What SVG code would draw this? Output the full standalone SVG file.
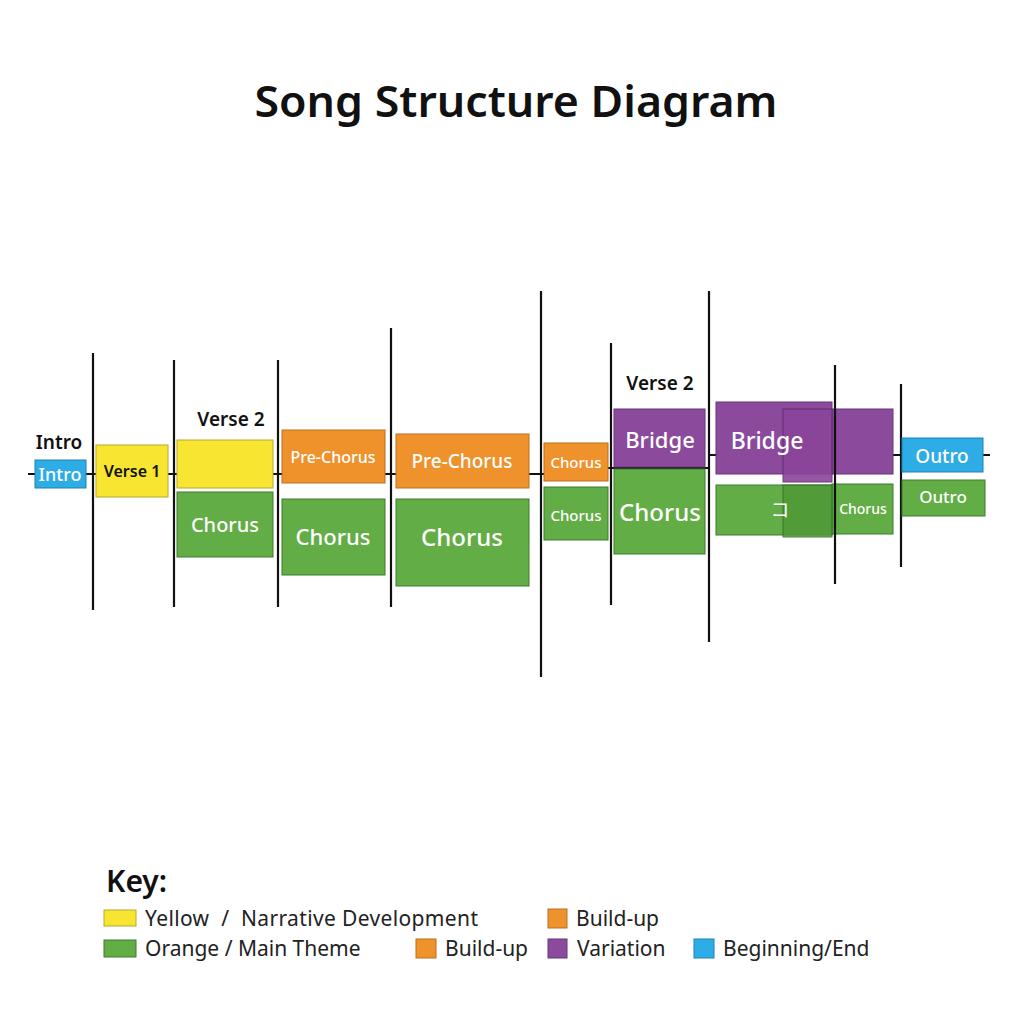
<svg xmlns="http://www.w3.org/2000/svg" width="1024" height="1024" viewBox="0 0 1024 1024">
<style>
text{font-family:"Noto Sans","Open Sans","Liberation Sans",sans-serif}
.t{font-weight:600;fill:#111}
.w{fill:#fff;font-weight:500;text-anchor:middle}
.k{fill:#111;font-weight:600;text-anchor:middle}
.y{fill:#F8E531;stroke:#B8A82A;stroke-width:1}
.g{fill:#62AD45;stroke:#3F7A30;stroke-width:1}
.g2{fill:#4F9A38;stroke:#35692A;stroke-width:1;opacity:0.85}
.o{fill:#F0922B;stroke:#B86E1E;stroke-width:1}
.p{fill:#8B4A9C;stroke:#66357A;stroke-width:1}
.p2{fill:#8A449A;stroke:#5A2C6A;stroke-width:1;opacity:0.9}
.b{fill:#2EACE6;stroke:#1F82B3;stroke-width:1}
.v{stroke:#111;stroke-width:2.2}
.h{stroke:#111;stroke-width:2;fill:none}
.lg{font-size:21px;fill:#222}
</style>
<rect width="1024" height="1024" fill="#fff"/>
<text x="516" y="117" text-anchor="middle" font-size="44" class="t" textLength="523" lengthAdjust="spacingAndGlyphs">Song Structure Diagram</text>

<g id="connectors">
<polyline class="h" points="28,474 606,474"/>
<polyline class="h" points="606,468 709,468 709,455 990,455"/>
<line class="v" x1="93" y1="353" x2="93" y2="610"/>
<line class="v" x1="174" y1="360" x2="174" y2="607"/>
<line class="v" x1="278" y1="360" x2="278" y2="607"/>
<line class="v" x1="391" y1="328" x2="391" y2="607"/>
<line class="v" x1="541" y1="291" x2="541" y2="677"/>
<line class="v" x1="611" y1="343" x2="611" y2="605"/>
<line class="v" x1="709" y1="291" x2="709" y2="642"/>
</g>

<g id="intro">
<text x="59" y="449" font-size="19" class="k">Intro</text>
<rect class="b" x="35" y="460" width="51" height="28"/>
<text x="60" y="481" font-size="18" class="w">Intro</text>
</g>
<g id="verse1">
<rect class="y" x="96" y="445" width="72" height="52"/>
<text x="132" y="477" font-size="16" class="k">Verse 1</text>
</g>
<g id="verse2">
<text x="231" y="426" font-size="19" class="k">Verse 2</text>
<rect class="y" x="177" y="440" width="96" height="48"/>
</g>
<g id="chorus1">
<rect class="g" x="177" y="492" width="96" height="65"/>
<text x="225" y="532" font-size="20" class="w">Chorus</text>
</g>
<g id="prechorus1">
<rect class="o" x="282" y="430" width="103" height="53"/>
<text x="333" y="463" font-size="16" class="w">Pre-Chorus</text>
</g>
<g id="chorus2">
<rect class="g" x="282" y="499" width="103" height="76"/>
<text x="333" y="545" font-size="22" class="w">Chorus</text>
</g>
<g id="prechorus2">
<rect class="o" x="396" y="434" width="133" height="54"/>
<text x="462" y="468" font-size="19" class="w">Pre-Chorus</text>
</g>
<g id="chorus3">
<rect class="g" x="396" y="499" width="133" height="87"/>
<text x="462" y="546" font-size="24" class="w">Chorus</text>
</g>
<g id="chorus4">
<rect class="o" x="544" y="443" width="64" height="38"/>
<text x="576" y="468" font-size="15" class="w">Chorus</text>
</g>
<g id="chorus5">
<rect class="g" x="544" y="487" width="64" height="53"/>
<text x="576" y="521" font-size="15" class="w">Chorus</text>
</g>
<g id="bridge1">
<text x="660" y="390" font-size="19" class="k">Verse 2</text>
<rect class="p" x="614" y="409" width="91" height="58"/>
<text x="660" y="448" font-size="22" class="w">Bridge</text>
</g>
<g id="chorus6">
<rect class="g" x="614" y="469" width="91" height="85"/>
<text x="660" y="521" font-size="24" class="w">Chorus</text>
</g>
<g id="bridge2">
<rect class="p" x="716" y="402" width="116" height="72"/>
<rect class="p" x="832" y="409" width="61" height="65"/>
<rect class="p2" x="783" y="409" width="49" height="73"/>
<text x="767" y="449" font-size="23" class="w">Bridge</text>
</g>
<g id="chorus7">
<rect class="g" x="716" y="485" width="116" height="50"/>
<rect class="g" x="832" y="484" width="61" height="50"/>
<rect class="g2" x="783" y="485" width="49" height="52"/>
<text x="780" y="517" font-size="19" class="w" style="font-family:'Noto Sans CJK JP',sans-serif;font-weight:400">コ</text>
<text x="863" y="514" font-size="14" class="w">Chorus</text>
</g>
<g id="verticals2">
<line class="v" x1="835" y1="365" x2="835" y2="584"/>
<line class="v" x1="901" y1="384" x2="901" y2="567"/>
</g>
<g id="outro">
<rect class="b" x="902" y="438" width="81" height="34"/>
<text x="942" y="463" font-size="19" class="w">Outro</text>
</g>
<g id="outro2">
<rect class="g" x="902" y="480" width="83" height="36"/>
<text x="943" y="503" font-size="17" class="w">Outro</text>
</g>

<g id="legend">
<text x="106" y="892" font-size="30" class="t">Key:</text>
<rect class="y" x="104" y="910" width="32" height="16"/>
<text x="145" y="926" class="lg" textLength="333" xml:space="preserve">Yellow  /  Narrative Development</text>
<rect class="o" x="548" y="909" width="19" height="19"/>
<text x="576" y="926" class="lg">Build-up</text>
<rect class="g" x="104" y="940" width="32" height="17"/>
<text x="145" y="956" class="lg">Orange / Main Theme</text>
<rect class="o" x="416" y="939" width="20" height="19"/>
<text x="445" y="956" class="lg">Build-up</text>
<rect class="p" x="548" y="939" width="19" height="19"/>
<text x="577" y="956" class="lg">Variation</text>
<rect class="b" x="694" y="939" width="20" height="19"/>
<text x="723" y="956" class="lg">Beginning/End</text>
</g>
</svg>
